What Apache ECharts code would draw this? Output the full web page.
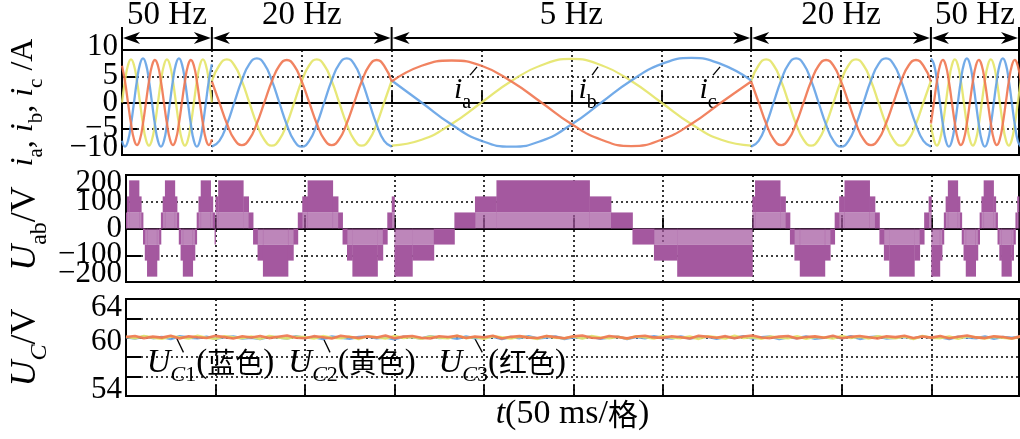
<!DOCTYPE html>
<html>
<head>
<meta charset="utf-8">
<script src="https://cdn.jsdelivr.net/npm/echarts@6/dist/echarts.min.js"></script>
<style>html,body{margin:0;padding:0;background:#fff}#c{width:1020px;height:439px}</style>
</head>
<body>
<div id="c"></div>
<script>
// ---------------- data ----------------
const segEdges = [0, 50, 150, 350, 450, 499];
const segLabels = ['50 Hz', '20 Hz', '5 Hz', '20 Hz', '50 Hz'];

// phase-current sample times (ms); repeated boundary time marks a break between frequency segments
const curT = [
  0,1.67,3.33,5,6.67,8.33,10,11.67,13.33,15,16.67,18.33,20,21.67,23.33,25,26.67,28.33,30,31.67,33.33,35,36.67,38.33,40,41.67,43.33,45,46.67,48.33,50,
  50,
  50,54.17,58.33,62.5,66.67,70.83,75,79.17,83.33,87.5,91.67,95.83,100,104.17,108.33,112.5,116.67,120.83,125,129.17,133.33,137.5,141.67,145.83,150,
  150,
  150,166.67,183.33,200,216.67,233.33,250,266.67,283.33,300,316.67,333.33,350,
  350,
  350,354.17,358.33,362.5,366.67,370.83,375,379.17,383.33,387.5,391.67,395.83,400,404.17,408.33,412.5,416.67,420.83,425,429.17,433.33,437.5,441.67,445.83,450,
  450,
  450,451.67,453.33,455,456.67,458.33,460,461.67,463.33,465,466.67,468.33,470,471.67,473.33,475,476.67,478.33,480,481.67,483.33,485,486.67,488.33,490,491.67,493.33,495,496.67,498.33,500
];
const ia = [
  7.0,4.0,0,-4.0,-7.0,-8.1,-7.0,-4.0,0,4.0,7.0,8.1,7.0,4.0,0,-4.0,-7.0,-8.1,-7.0,-4.0,0,4.0,7.0,8.1,7.0,4.0,0,-4.0,-7.0,-8.1,-7.0,
  null,
  4.0,0,-4.0,-7.0,-8.1,-7.0,-4.0,0,4.0,7.0,8.1,7.0,4.0,0,-4.0,-7.0,-8.1,-7.0,-4.0,0,4.0,7.0,8.1,7.0,4.0,
  null,
  4.0,7.0,8.0,7.0,4.0,0,-4.1,-7.1,-8.3,-7.1,-4.1,0,4.0,
  null,
  4.0,0,-4.0,-7.0,-8.1,-7.0,-4.0,0,4.0,7.0,8.1,7.0,4.0,0,-4.0,-7.0,-8.1,-7.0,-4.0,0,4.0,7.0,8.1,7.0,4.0,
  null,
  -4.0,0,4.0,7.0,8.1,7.0,4.0,0,-4.0,-7.0,-8.1,-7.0,-4.0,0,4.0,7.0,8.1,7.0,4.0,0,-4.0,-7.0,-8.1,-7.0,-4.0,0,4.0,7.0,8.1,7.0,4.0
];
const ib = [
  0,4.1,7.1,8.2,7.1,4.1,0,-4.1,-7.1,-8.2,-7.1,-4.1,0,4.1,7.1,8.2,7.1,4.1,0,-4.1,-7.1,-8.2,-7.1,-4.1,0,4.1,7.1,8.2,7.1,4.1,0,
  null,
  4.1,7.1,8.2,7.1,4.1,0,-4.1,-7.1,-8.2,-7.1,-4.1,0,4.1,7.1,8.2,7.1,4.1,0,-4.1,-7.1,-8.2,-7.1,-4.1,0,4.1,
  null,
  -8.2,-7.1,-4.1,0,4.1,7.1,8.3,7.1,4.1,0,-4.1,-7.1,-8.2,
  null,
  4.1,7.1,8.2,7.1,4.1,0,-4.1,-7.1,-8.2,-7.1,-4.1,0,4.1,7.1,8.2,7.1,4.1,0,-4.1,-7.1,-8.2,-7.1,-4.1,0,4.1,
  null,
  -4.1,-7.1,-8.2,-7.1,-4.1,0,4.1,7.1,8.2,7.1,4.1,0,-4.1,-7.1,-8.2,-7.1,-4.1,0,4.1,7.1,8.2,7.1,4.1,0,-4.1,-7.1,-8.2,-7.1,-4.1,0,4.1
];
const ic = [
  -7.3,-8.4,-7.3,-4.2,0,4.2,7.3,8.4,7.3,4.2,0,-4.2,-7.3,-8.4,-7.3,-4.2,0,4.2,7.3,8.4,7.3,4.2,0,-4.2,-7.3,-8.4,-7.3,-4.2,0,4.2,7.3,
  null,
  -8.4,-7.3,-4.2,0,4.2,7.3,8.4,7.3,4.2,0,-4.2,-7.3,-8.4,-7.3,-4.2,0,4.2,7.3,8.4,7.3,4.2,0,-4.2,-7.3,-8.4,
  null,
  4.2,0,-4.2,-7.3,-8.4,-7.3,-4.2,0,4.2,7.3,8.5,7.3,4.2,
  null,
  -8.4,-7.3,-4.2,0,4.2,7.3,8.4,7.3,4.2,0,-4.2,-7.3,-8.4,-7.3,-4.2,0,4.2,7.3,8.4,7.3,4.2,0,-4.2,-7.3,-8.4,
  null,
  8.4,7.3,4.2,0,-4.2,-7.3,-8.4,-7.3,-4.2,0,4.2,7.3,8.4,7.3,4.2,0,-4.2,-7.3,-8.4,-7.3,-4.2,0,4.2,7.3,8.4,7.3,4.2,0,-4.2,-7.3,-8.4
];

// Uab PWM bands: start time of each band (last entry = end time), inner level, outer level (V)
const uabT = [
  0,0.5,1.75,7.25,8.5,9.5,10.5,11.75,17.25,18.5,19.5,20.5,21.75,27.25,28.5,29.5,30.5,31.75,37.25,38.5,39.5,40.5,41.75,47.25,48.5,49.5,
  50,51.5,65.5,68.5,71,73.5,76.5,90.5,93.5,96,98.5,101.5,115.5,118.5,121,123.5,126.5,140.5,143.5,146,148.5,
  150,160,172,183.5,195,207,259,271,283,295,308,
  350,351.5,365.5,368.5,371,373.5,376.5,390.5,393.5,396,398.5,401.5,415.5,418.5,421,423.5,426.5,440.5,443.5,446,448.5,
  450,454.75,456,457,458,459.25,464.75,466,467,468,469.25,474.75,476,477,478,479.25,484.75,486,487,488,489.25,494.75,496,497,498,
  499
];
const uabLo = [
  0,60,60,60,0, 0,-60,-60,-60,0, 0,60,60,60,0, 0,-60,-60,-60,0, 0,60,60,60,0, 0,
  60,60,60,0, 0,-60,-60,-60,0, 0,60,60,60,0, 0,-60,-60,-60,0, 0,60,
  -60,-60,0,0,60,60,60,0,0,-60,-60,
  60,60,60,0, 0,-60,-60,-60,0, 0,60,60,60,0, 0,-60,-60,-60,0, 0,60,
  -60,-60,0, 0,60,60,60,0, 0,-60,-60,-60,0, 0,60,60,60,0, 0,-60,-60,-60,0, 0,60
];
const uabHi = [
  60,120,180,120,60, -60,-120,-180,-120,-60, 60,120,180,120,60, -60,-120,-180,-120,-60, 60,120,180,120,60, -60,
  120,180,120,60, -60,-120,-180,-120,-60, 60,120,180,120,60, -60,-120,-180,-120,-60, 60,120,
  -180,-120,-60,60,120,180,120,60,-60,-120,-180,
  120,180,120,60, -60,-120,-180,-120,-60, 60,120,180,120,60, -60,-120,-180,-120,-60, 60,120,
  -180,-120,-60, 60,120,180,120,60, -60,-120,-180,-120,-60, 60,120,180,120,60, -60,-120,-180,-120,-60, 60,120
];

// capacitor voltages (V)
const ucTime = [
  0,5,10,15,20,25,30,35,40,45,50,55,60,65,70,75,80,85,90,95,100,105,110,115,120,125,130,135,140,145,150,155,160,165,170,175,180,185,190,195,
  200,205,210,215,220,225,230,235,240,245,250,255,260,265,270,275,280,285,290,295,300,305,310,315,320,325,330,335,340,345,350,355,360,365,370,375,380,385,390,395,
  400,405,410,415,420,425,430,435,440,445,450,455,460,465,470,475,480,485,490,495,500
];
const ucBlue = [
  60.05,59.92,60.12,59.97,60.08,59.88,60.15,60.02,59.95,60.10,
  59.90,60.06,60.13,59.94,60.01,59.87,60.11,60.04,59.93,60.16,
  59.98,60.07,59.89,60.12,60.00,59.91,60.09,60.14,59.96,60.03,
  59.86,60.10,60.05,59.92,60.17,59.99,60.06,59.90,60.13,59.95,
  60.02,60.11,59.88,60.08,59.97,60.15,59.93,60.04,60.12,59.89,
  60.07,59.98,60.14,59.91,60.03,60.10,59.87,60.09,59.96,60.16,
  60.01,59.92,60.13,59.94,60.06,60.11,59.90,60.08,59.99,60.15,
  59.93,60.04,60.12,59.88,60.07,59.97,60.14,59.91,60.02,60.10,
  59.95,60.17,59.89,60.06,60.13,59.94,60.01,60.09,59.92,60.15,
  59.98,60.05,59.87,60.11,60.03,59.96,60.14,59.90,60.08,60.00,
  60.12
];
const ucYellow = [
  60.10,59.95,60.18,60.02,59.90,60.14,60.06,59.93,60.20,60.00,
  59.91,60.16,60.04,59.97,60.12,59.89,60.19,60.03,59.94,60.11,
  60.07,59.92,60.17,60.01,59.96,60.13,59.88,60.15,60.05,59.93,
  60.18,59.99,60.09,59.90,60.14,60.02,59.95,60.20,59.97,60.08,
  59.91,60.16,60.04,59.94,60.12,60.06,59.89,60.19,60.00,59.96,
  60.13,59.92,60.17,60.03,59.95,60.10,59.90,60.15,60.07,59.93,
  60.18,60.01,59.97,60.12,59.89,60.16,60.04,59.94,60.20,59.98,
  60.06,59.91,60.14,60.02,59.96,60.17,59.90,60.09,60.05,59.93,
  60.19,59.99,60.11,59.92,60.15,60.03,59.95,60.13,59.88,60.18,
  60.00,59.97,60.12,59.91,60.16,60.06,59.94,60.10,60.02,59.90,
  60.14
];
const ucRed = [
  60.08,60.18,59.96,60.12,60.02,60.22,59.94,60.15,60.05,59.98,
  60.20,60.07,59.93,60.16,60.03,60.19,59.97,60.11,60.24,60.01,
  59.95,60.17,60.06,59.92,60.21,60.09,59.99,60.14,60.04,60.23,
  59.96,60.12,60.18,60.00,59.94,60.16,60.08,60.20,59.97,60.13,
  60.05,60.22,59.93,60.10,60.17,60.02,59.98,60.19,60.07,59.95,
  60.15,60.24,60.01,59.96,60.18,60.09,59.94,60.13,60.21,60.04,
  59.99,60.16,60.06,59.92,60.20,60.11,60.00,60.17,59.95,60.14,
  60.23,60.03,59.97,60.12,60.19,59.93,60.08,60.15,60.01,60.22,
  59.96,60.10,60.18,60.05,59.94,60.16,60.07,60.21,59.98,60.13,
  60.02,60.19,59.95,60.11,60.24,60.04,59.97,60.15,60.09,59.93,
  60.17
];
// tick labels
const curTickLabels = [-10, -5, 0, 5, 10];
const uabTickLabels = [-200, -100, 0, 100, 200];
const ucTickLabels = [54, 60, 64];

// ---------------- styling ----------------
const SERIF = "'Liberation Serif','Times New Roman','Noto Sans CJK SC',serif";
const CJK = "'Noto Sans CJK SC','Liberation Serif',sans-serif";
const COL_A = '#EF7650', COL_B = '#E4E468', COL_C = '#64A2E6', COL_U = '#A4589F';
// vertical nudges of end labels (px), as in the reference figure
const labelNudge = [{'10': -3, '-10': -7}, {'200': 8, '-200': -8}, {'64': 9, '60': 4, '54': -6}];

function richSet(main, sub, cjk) {
  return {
    i: {fontFamily: SERIF, fontStyle: 'italic', fontSize: main, lineHeight: main + 4, verticalAlign: 'top', color: '#000'},
    n: {fontFamily: SERIF, fontSize: main, lineHeight: main + 4, verticalAlign: 'top', color: '#000'},
    s: {fontFamily: SERIF, fontSize: sub, lineHeight: sub, padding: [Math.round(main * 0.55), 0, 0, 0], verticalAlign: 'top', color: '#000'},
    si: {fontFamily: SERIF, fontStyle: 'italic', fontSize: sub, lineHeight: sub, padding: [Math.round(main * 0.55), 0, 0, 0], verticalAlign: 'top', color: '#000'},
    c: {fontFamily: CJK, fontSize: cjk || (main - 4), lineHeight: main + 4, padding: [Math.round(main * 0.06), 0, 0, 0], verticalAlign: 'top', color: '#000'}
  };
}
const minus = v => (v < 0 ? '\u2212' + Math.abs(v) : String(v));

function xAx(gi, extra) {
  return Object.assign({
    type: 'value', gridIndex: gi, min: 0, max: 499, interval: 50,
    axisLabel: {show: false},
    axisLine: {show: true, lineStyle: {color: '#000', width: 2}},
    axisTick: {show: true, inside: true, length: 11, lineStyle: {color: '#000', width: 1.8}},
    splitLine: {show: true, lineStyle: {color: '#000', type: [2, 3], width: 1.6}}
  }, extra || {});
}
function yAx(gi, min, max, interval, name, rich) {
  return {
    type: 'value', gridIndex: gi, min, max, interval,
    axisLine: {show: true, lineStyle: {color: '#000', width: 2}},
    axisTick: {show: true, inside: true, length: 15, lineStyle: {color: '#000', width: 2}},
    splitLine: {show: true, lineStyle: {color: '#000', type: [2, 3], width: 1.6}},
    axisLabel: {show: false},
    name, nameLocation: 'middle', nameGap: 78, nameRotate: 90,
    nameTextStyle: {rich}
  };
}

const pairs = (xs, ys) => ys.map((v, i) => [xs[i], v]);
const uabData = uabLo.map((lo, i) => [uabT[i], uabT[i + 1], lo, uabHi[i]]);

const chart = echarts.init(document.getElementById('c'), null, {renderer: 'canvas'});
const gridBase = {left: 122, width: 897, show: true, borderColor: '#000', borderWidth: 2, backgroundColor: 'transparent'};

const lineSeries = (vals, color, gi, width, smooth) => ({
  type: 'line', xAxisIndex: gi, yAxisIndex: gi, data: pairs(gi === 0 ? curT : ucTime, vals),
  smooth: smooth, showSymbol: false, symbol: 'none', connectNulls: false,
  lineStyle: {color, width, opacity: 0.9}, itemStyle: {color}, silent: true
});

const option = {
  animation: false,
  backgroundColor: '#fff',
  textStyle: {fontFamily: SERIF},
  grid: [
    Object.assign({top: 50, height: 105}, gridBase),
    Object.assign({top: 175, height: 107}, gridBase),
    Object.assign({top: 299, height: 97}, gridBase)
  ],
  xAxis: [
    xAx(0), xAx(1),
    xAx(2, {name: '{i|t}{n|(50 ms/}{c|格}{n|)}', nameLocation: 'middle', nameGap: 1, nameTextStyle: {rich: richSet(34, 22, 30)}})
  ],
  yAxis: [
    yAx(0, -10, 10, 5, '{i|i}{s|a}{n|, }{i|i}{s|b}{n|, }{i|i}{s|c}{n| /A}', richSet(32, 21)),
    yAx(1, -200, 200, 100, '{i|U}{s|ab}{n|/V}', richSet(36, 24)),
    yAx(2, 54, 64, 2, '{i|U}{si|C}{n|/V}', richSet(36, 24))
  ],
  series: [
    lineSeries(ib, COL_B, 0, 2.3, 0.5),
    lineSeries(ic, COL_C, 0, 2.3, 0.5),
    lineSeries(ia, COL_A, 0, 2.3, 0.5),
    {
      type: 'custom', xAxisIndex: 1, yAxisIndex: 1, data: uabData, silent: true,
      encode: {x: [0, 1], y: [2, 3]},
      renderItem: function (params, api) {
        const x0 = api.coord([api.value(0), 0])[0];
        const x1 = api.coord([api.value(1), 0])[0];
        const y0 = api.coord([0, 0])[1];
        const yLo = api.coord([0, api.value(2)])[1];
        const yHi = api.coord([0, api.value(3)])[1];
        const w = Math.max(x1 - x0 + 0.4, 0.5);
        const children = [];
        if (api.value(2) !== 0) {
          children.push({type: 'rect', shape: {x: x0, y: Math.min(y0, yLo), width: w, height: Math.abs(yLo - y0)},
            style: {fill: COL_U, opacity: 0.72}});
        }
        children.push({type: 'rect', shape: {x: x0, y: Math.min(yLo, yHi), width: w, height: Math.abs(yHi - yLo)},
          style: {fill: COL_U}});
        return {type: 'group', children};
      }
    },
    lineSeries(ucBlue, COL_C, 2, 2.6, false),
    lineSeries(ucYellow, COL_B, 2, 2.6, false),
    lineSeries(ucRed, COL_A, 2, 2.6, false)
  ].map((s, k) => {
    if (k >= 4) { s.xAxisIndex = 2; s.yAxisIndex = 2; }
    return s;
  })
};
chart.setOption(option);

// ---------------- annotations & tick labels (anchored through the axes) ----------------
const P = (gi, t, v) => chart.convertToPixel({gridIndex: gi}, [t, v]);
const g = [];

// y tick labels
[curTickLabels, uabTickLabels, ucTickLabels].forEach((ticks, gi) => {
  ticks.forEach(v => {
    const p = P(gi, 0, v);
    const dy = labelNudge[gi][String(v)] || 0;
    g.push({type: 'text', silent: true, x: p[0] - 4, y: p[1] + dy,
      style: {text: minus(v), font: '31px ' + SERIF, fill: '#000', align: 'right', verticalAlign: 'middle', textAlign: 'right', textVerticalAlign: 'middle'}});
  });
});

const topY = P(0, 0, 10)[1];
segEdges.forEach(t => {
  const x = P(0, t, 0)[0];
  g.push({type: 'line', silent: true, shape: {x1: x, y1: topY - 23, x2: x, y2: topY}, style: {stroke: '#000', lineWidth: 2}});
});
for (let k = 0; k < segLabels.length; k++) {
  const xa = P(0, segEdges[k], 0)[0] + 1, xb = P(0, segEdges[k + 1], 0)[0] - 1, ay = topY - 12;
  g.push({type: 'line', silent: true, shape: {x1: xa + 6, y1: ay, x2: xb - 6, y2: ay}, style: {stroke: '#000', lineWidth: 2}});
  g.push({type: 'polygon', silent: true, shape: {points: [[xa, ay], [xa + 17, ay - 6], [xa + 12, ay], [xa + 17, ay + 6]]}, style: {fill: '#000'}});
  g.push({type: 'polygon', silent: true, shape: {points: [[xb, ay], [xb - 17, ay - 6], [xb - 12, ay], [xb - 17, ay + 6]]}, style: {fill: '#000'}});
  g.push({type: 'text', silent: true, x: (xa + xb) / 2, y: topY - 35,
    style: {text: segLabels[k], font: '33px ' + SERIF, fill: '#000', align: 'center', verticalAlign: 'middle', textAlign: 'center', textVerticalAlign: 'middle'}});
}
const tags = [
  {gi: 0, text: '{i|i}{s|a}', at: [189.5, 1.9], lead: [193.6, 5.2, 197.5, 6.8], rich: richSet(30, 20)},
  {gi: 0, text: '{i|i}{s|b}', at: [259, 1.9], lead: [261.5, 5.2, 264.8, 6.8], rich: richSet(30, 20)},
  {gi: 0, text: '{i|i}{s|c}', at: [326, 1.9], lead: [328.8, 5.2, 332.7, 6.8], rich: richSet(30, 20)},
  {gi: 2, text: '{i|U}{si|C}{s|1}{n|(}{c|蓝色}{n|)}', at: [11.6, 57.2], lead: [28.2, 60.0, 32.1, 58.5], left: true, rich: richSet(33, 22, 28)},
  {gi: 2, text: '{i|U}{si|C}{s|2}{n|(}{c|黄色}{n|)}', at: [90.7, 57.2], lead: [110.1, 60.0, 114, 58.5], left: true, rich: richSet(33, 22, 28)},
  {gi: 2, text: '{i|U}{si|C}{s|3}{n|(}{c|红色}{n|)}', at: [174.6, 57.2], lead: [194.7, 60.0, 199.1, 58.5], left: true, rich: richSet(33, 22, 28)}
];
tags.forEach(tg => {
  const p = P(tg.gi, tg.at[0], tg.at[1]);
  const l0 = P(tg.gi, tg.lead[0], tg.lead[1]);
  const l1 = P(tg.gi, tg.lead[2], tg.lead[3]);
  const al = tg.left ? 'left' : 'center';
  g.push({type: 'text', silent: true, x: p[0], y: p[1],
    style: {text: tg.text, rich: tg.rich, align: al, verticalAlign: 'middle', textAlign: al, textVerticalAlign: 'middle'}});
  g.push({type: 'line', silent: true, shape: {x1: l0[0], y1: l0[1], x2: l1[0], y2: l1[1]}, style: {stroke: '#000', lineWidth: 1.3}});
});
chart.setOption({graphic: {elements: g}});
</script>
</body>
</html>
